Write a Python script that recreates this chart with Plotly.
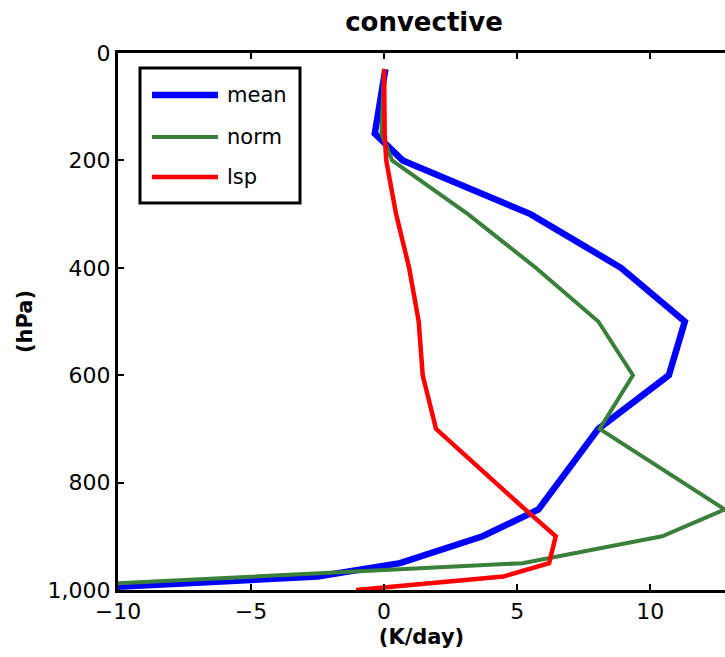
import plotly.graph_objects as go

# Pressure levels (hPa) and heating-rate profiles (K/day)
pressure = [30, 100, 150, 200, 300, 400, 500, 600, 700, 850, 900, 950, 975, 1000]
mean = [0.05, -0.2, -0.35, 0.7, 5.5, 8.9, 11.3, 10.7, 8.05, 5.8, 3.7, 0.6, -2.5, -12.5]
norm = [0.0, -0.05, -0.1, 0.3, 3.15, 5.7, 8.05, 9.35, 8.1, 12.8, 10.45, 5.2, -4.9, -15.0]
lsp = [0.0, 0.0, 0.02, 0.08, 0.45, 0.94, 1.3, 1.45, 1.95, 5.3, 6.45, 6.2, 4.48, -1.05]

series_names = ["mean", "norm", "lsp"]
series_values = [mean, norm, lsp]
series_colors = ["#0000ff", "#3a803a", "#ff0000"]
series_widths = [6.5, 4, 4.5]

x_ticks = [-10, -5, 0, 5, 10]
y_ticks = [0, 200, 400, 600, 800, 1000]

FONT = "DejaVu Sans"
W, H = 725, 657
ML, MR, MT, MB = 118, 0, 53, 67

fig = go.Figure()
for name, vals, col, w in zip(series_names, series_values, series_colors, series_widths):
    fig.add_trace(go.Scatter(x=vals, y=pressure, mode="lines", name=name,
                             line=dict(color=col, width=w), showlegend=False,
                             yaxis="y"))

axis_common = dict(showgrid=False, zeroline=False, showline=True, linecolor="black",
                   linewidth=3, ticks="inside", ticklen=6, tickwidth=2,
                   tickcolor="black", tickfont=dict(family=FONT, size=22, color="black"))

fig.update_layout(
    width=W, height=H,
    margin=dict(l=ML, r=MR, t=MT, b=MB),
    paper_bgcolor="white", plot_bgcolor="white",
    font=dict(family=FONT, color="black"),
    title=dict(text="<b>convective</b>", x=424 / W, xref="container", xanchor="center",
               y=1 - 22 / H, yref="container", yanchor="middle",
               font=dict(family=FONT, size=26, color="black")),
    xaxis=dict(range=[-10, 12.81], tickvals=x_ticks, mirror="ticks",
               title=dict(text="<b>(K/day)</b>", font=dict(family=FONT, size=21), standoff=6),
               **axis_common),
    yaxis=dict(range=[1000, 0], tickvals=y_ticks, tickformat=",d", mirror=False,
               title=dict(text="<b>(hPa)</b>", font=dict(family=FONT, size=21), standoff=10),
               **axis_common),
    yaxis2=dict(range=[1000, 0], tickvals=y_ticks, overlaying="y", side="right",
                anchor="x", showline=False, showgrid=False, zeroline=False,
                ticks="inside", ticklen=6, tickwidth=2, tickcolor="black",
                showticklabels=False),
)

# Legend box drawn in paper coordinates
pw, ph = W - ML - MR, H - MT - MB


def px(x):
    return (x - ML) / pw


def py(y):
    return (H - MB - y) / ph


fig.add_shape(type="rect", xref="paper", yref="paper",
              x0=px(140), x1=px(300), y0=py(203), y1=py(68),
              line=dict(color="black", width=3), fillcolor="white", layer="above")
for i, (name, col, w) in enumerate(zip(series_names, series_colors, series_widths)):
    yy = [95, 137, 177][i]
    fig.add_shape(type="line", xref="paper", yref="paper",
                  x0=px(152), x1=px(218), y0=py(yy), y1=py(yy),
                  line=dict(color=col, width=w), layer="above")
    fig.add_annotation(xref="paper", yref="paper", x=px(225), y=py(yy),
                       text=name, showarrow=False, xanchor="left", yanchor="middle",
                       font=dict(family=FONT, size=21, color="black"))

fig.write_html("out.html")
